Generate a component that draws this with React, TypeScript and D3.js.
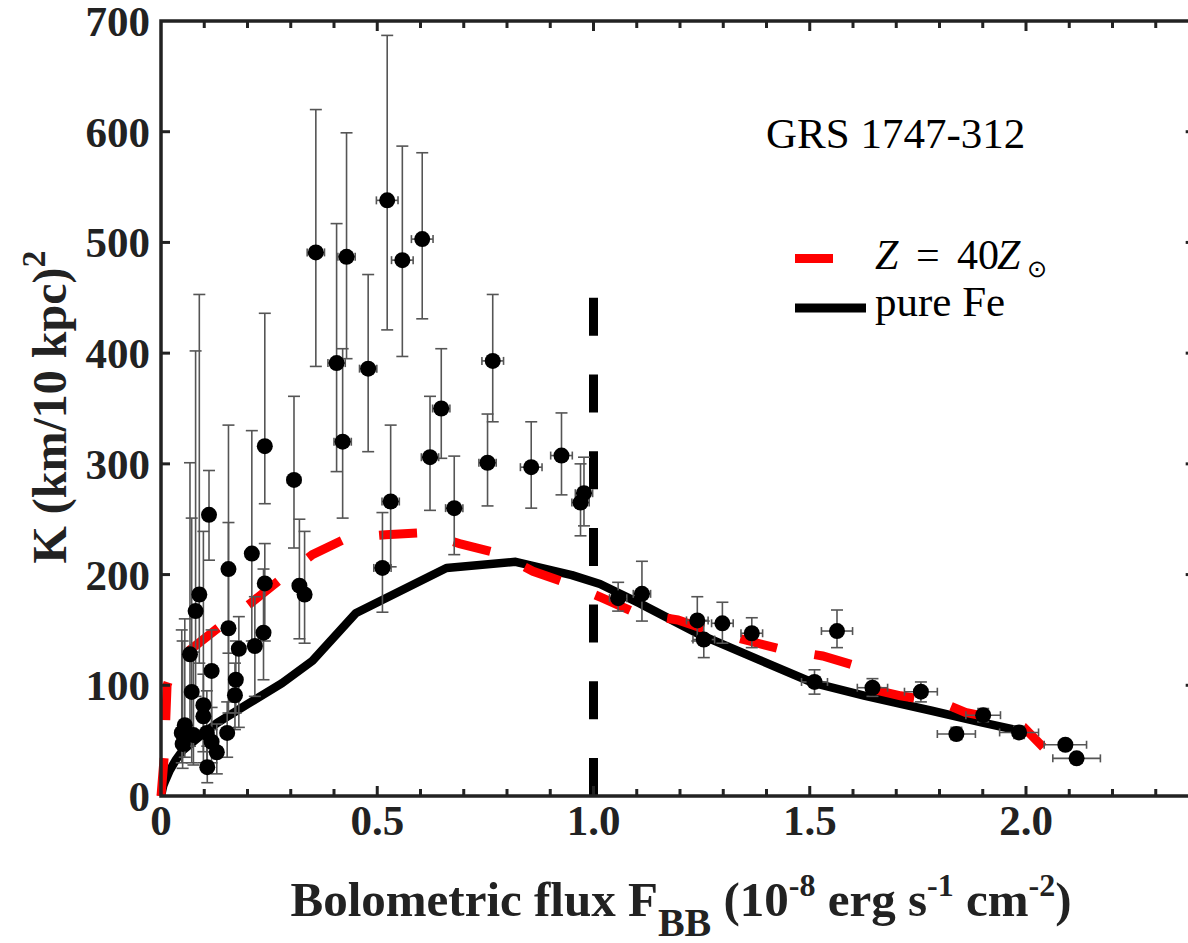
import React from "react";
import * as d3 from "d3";

// ---- data ----
const pointX = [0.358, 0.429, 0.406, 0.42, 0.523, 0.558, 0.604, 0.479, 0.767, 0.648, 0.622, 0.531, 0.678, 0.755, 0.512, 0.3075, 0.24, 0.32, 0.332, 0.856, 0.926, 0.978, 0.97,
  0.111, 0.21, 0.0886, 0.08, 0.156, 0.156, 0.18, 0.24, 0.237, 0.217, 0.067, 0.117, 0.071, 0.173, 0.171, 0.098, 0.055, 0.048, 0.098, 0.106, 0.075, 0.153, 0.05, 0.117, 0.129, 0.107,
  1.057, 1.112, 1.24, 1.255, 1.298, 1.366, 1.563, 1.511, 1.645, 1.757, 1.839, 1.901, 1.984, 2.091, 2.117];
const pointY = [491, 487, 391, 320, 538, 484, 503, 386, 393, 350, 306, 266, 260, 301, 206, 285.5, 316, 190, 182, 297, 307.5, 273.5, 265,
  254, 219, 182, 167, 205, 151.5, 133, 192, 147.5, 135.5, 128, 113, 94, 105, 91, 82, 64, 57, 72, 57, 55, 57, 47, 49, 39.5, 26,
  178.7, 182.6, 158.6, 141.3, 156, 147, 149, 103, 97.8, 94.2, 56, 73, 57.4, 46.3, 34];
const pointLo = [388, 395, 293, 251, 421, 397, 431, 311, 338, 305, 258, 207, 218, 262, 166, 224, 264, 142, 138, 260, 272, 244, 235,
  213, 140, 120, 90, 129, 75, 62, 140, 105, 90, 45, 60, 30, 75, 60, 30, 35, 30, 40, 25, 28, 35, 25, 30, 20, 12,
  167, 158, 140, 125, 138, 134, 134, 92, 90, 85, 51, 67, 52, 42, 30];
const pointHi = [620, 599, 517, 404, 687, 587, 581, 471, 453, 404, 361, 335, 307, 345, 256, 361, 436, 250, 239, 338, 346, 306, 300,
  294, 330, 453, 402, 335, 247, 162, 228, 205, 180, 301, 150, 251, 140, 120, 239, 160, 150, 110, 95, 130, 85, 140, 80, 65, 45,
  193, 212, 180, 158, 175, 161, 168, 114, 106, 103, 62, 79, 63, 50, 38];
const pointXErr = [0.02, 0.02, 0.02, 0.02, 0.025, 0.025, 0.025, 0.02, 0.025, 0.02, 0.02, 0.02, 0.02, 0.02, 0.02, 0.015, 0.012, 0.012, 0.012, 0.025, 0.025, 0.02, 0.02,
  0.01, 0.01, 0.008, 0.008, 0.01, 0.01, 0.01, 0.01, 0.01, 0.01, 0.008, 0.008, 0.008, 0.01, 0.01, 0.008, 0.008, 0.008, 0.008, 0.008, 0.008, 0.01, 0.008, 0.008, 0.008, 0.008,
  0.02, 0.02, 0.025, 0.025, 0.025, 0.025, 0.036, 0.03, 0.035, 0.038, 0.044, 0.04, 0.045, 0.049, 0.055];

// pure Fe model curve
const feX = [0, 0.005, 0.01, 0.02, 0.035, 0.05, 0.09, 0.13, 0.2, 0.28, 0.35, 0.45, 0.66, 0.82, 0.95, 1.015, 1.107, 1.245, 1.383, 1.506, 1.628, 1.782, 1.897, 1.99];
const feY = [0, 9, 14, 23, 33, 41, 54, 66, 83, 102, 122, 165, 206, 211.5, 199.5, 191.5, 174, 146, 123, 102.5, 90.5, 77, 66.5, 58.5];

// Z = 40 Zsun model curve
const zX = [0, 0.008, 0.014, 0.03, 0.067, 0.136, 0.21, 0.28, 0.35, 0.43, 0.52, 0.61, 0.69, 0.78, 0.86, 0.94, 1.02, 1.1, 1.195, 1.27, 1.36, 1.44, 1.53, 1.62, 1.66, 1.71, 1.805, 1.86, 1.93, 1.975, 1.995, 2.04];
const zY = [0, 38, 100, 118, 132, 153, 175, 197, 218, 233, 236, 238, 228, 219, 203, 192, 179, 165, 159, 149, 140, 132, 126.5, 116, 95, 90.5, 84.5, 75.5, 70, 65, 62, 44];

const xMajorTicks = [0, 0.5, 1.0, 1.5, 2.0];
const xTickLabels = ["0", "0.5", "1.0", "1.5", "2.0"];
const yTicks = [0, 100, 200, 300, 400, 500, 600, 700];

const W = 1188;
const H = 943;

export default function App() {
  const left = 161;
  const perUnit = 432.5;
  const xMax = 2.39;
  const x = d3.scaleLinear().domain([0, xMax]).range([left, left + xMax * perUnit]);
  const y = d3.scaleLinear().domain([0, 700]).range([796, 21]);
  const right = x(xMax);
  const top = y(700);
  const bottom = y(0);

  const line = d3
    .line<[number, number]>()
    .x((d) => x(d[0]))
    .y((d) => y(d[1]))
    .curve(d3.curveLinear);
  const fePath = line(feX.map((v, i) => [v, feY[i]]))!;
  const zPath = line(zX.map((v, i) => [v, zY[i]]))!;

  const minorTicks = d3.range(1, 24).map((i) => i / 10);
  const serif = "'Liberation Serif', 'Times New Roman', Times, serif";
  const axisCol = "#222";
  const errCol = "#555";
  const cap = 6;

  return (
    <svg width={W} height={H} style={{ position: "absolute", left: 0, top: 0, background: "#fff" }} fontFamily={serif}>
      <rect x={0} y={0} width={W} height={H} fill="#fff" />
      {/* model curves */}
      <path d={fePath} fill="none" stroke="#000" strokeWidth={8.5} strokeLinejoin="round" />
      <path d={zPath} fill="none" stroke="#ff0000" strokeWidth={9} strokeDasharray="38 38" />
      {/* vertical dashed line at F = 1.0 */}
      <line x1={x(1)} x2={x(1)} y1={y(450)} y2={y(0)} stroke="#000" strokeWidth={9} strokeDasharray="38 38.7" />

      {/* error bars */}
      {pointX.map((px, i) => {
        const cx = x(px);
        const cy = y(pointY[i]);
        const yl = y(pointLo[i]);
        const yh = y(pointHi[i]);
        const xl = x(px - pointXErr[i]);
        const xh = x(px + pointXErr[i]);
        return (
          <g key={"e" + i} stroke={errCol} strokeWidth={1.6} fill="none">
            <line x1={cx} x2={cx} y1={yl} y2={yh} />
            <line x1={cx - cap} x2={cx + cap} y1={yl} y2={yl} />
            <line x1={cx - cap} x2={cx + cap} y1={yh} y2={yh} />
            <line x1={xl} x2={xh} y1={cy} y2={cy} />
            <line x1={xl} x2={xl} y1={cy - 4} y2={cy + 4} />
            <line x1={xh} x2={xh} y1={cy - 4} y2={cy + 4} />
          </g>
        );
      })}
      {/* markers */}
      {pointX.map((px, i) => (
        <circle key={"p" + i} cx={x(px)} cy={y(pointY[i])} r={8} fill="#000" />
      ))}

      {/* frame */}
      <rect x={left} y={top} width={right - left} height={bottom - top} fill="none" stroke={axisCol} strokeWidth={3.5} />
      {/* x ticks */}
      {minorTicks.map((t) => {
        const major = Math.abs(t * 2 - Math.round(t * 2)) < 1e-6;
        const len = major ? 10 : 7;
        return (
          <g key={"xt" + t} stroke={axisCol} strokeWidth={3}>
            <line x1={x(t)} x2={x(t)} y1={bottom} y2={bottom - len} />
            <line x1={x(t)} x2={x(t)} y1={top} y2={top + len} />
          </g>
        );
      })}
      {/* y ticks */}
      {yTicks.slice(1, -1).map((t) => (
        <g key={"yt" + t} stroke={axisCol} strokeWidth={3}>
          <line x1={left} x2={left + 9} y1={y(t)} y2={y(t)} />
          <line x1={right} x2={right - 9} y1={y(t)} y2={y(t)} />
        </g>
      ))}

      {/* tick labels */}
      {xMajorTicks.map((t, i) => (
        <text key={"xl" + t} x={x(t)} y={835} textAnchor="middle" fontSize={43} fontWeight="bold" fill="#222">
          {xTickLabels[i]}
        </text>
      ))}
      {yTicks.map((t) => (
        <text key={"yl" + t} x={150} y={y(t) + 15} textAnchor="end" fontSize={43} fontWeight="bold" fill="#222">
          {t}
        </text>
      ))}

      {/* axis titles */}
      <text x={681} y={916} textAnchor="middle" fontSize={49} fontWeight="bold" fill="#222">
        Bolometric flux F
        <tspan fontSize={40} dy={20}>BB</tspan>
        <tspan dy={-20}> (10</tspan>
        <tspan fontSize={32} dy={-20}>-8</tspan>
        <tspan dy={20}> erg s</tspan>
        <tspan fontSize={32} dy={-20}>-1</tspan>
        <tspan dy={20}> cm</tspan>
        <tspan fontSize={32} dy={-20}>-2</tspan>
        <tspan dy={20}>)</tspan>
      </text>
      <text transform="translate(66,407) rotate(-90)" textAnchor="middle" fontSize={48} fontWeight="bold" fill="#222">
        K (km/10 kpc)
        <tspan fontSize={34} dy={-21}>2</tspan>
      </text>

      {/* annotation + legend */}
      <text x={766} y={148} fontSize={43} fill="#000">GRS 1747-312</text>
      <line x1={795} x2={833} y1={258.5} y2={258.5} stroke="#ff0000" strokeWidth={9} />
      <text y={269} fontSize={42} fill="#000">
        <tspan x={875} fontStyle="italic">Z</tspan>
        <tspan x={916}>=</tspan>
        <tspan x={957}>40</tspan>
        <tspan x={997} fontStyle="italic">Z</tspan>
      </text>
      <text x={1027} y={277} fontSize={24} fill="#000">⊙</text>
      <line x1={795} x2={866} y1={308} y2={308} stroke="#000" strokeWidth={9} />
      <text x={875} y={316} fontSize={43} fill="#000">pure Fe</text>
    </svg>
  );
}
